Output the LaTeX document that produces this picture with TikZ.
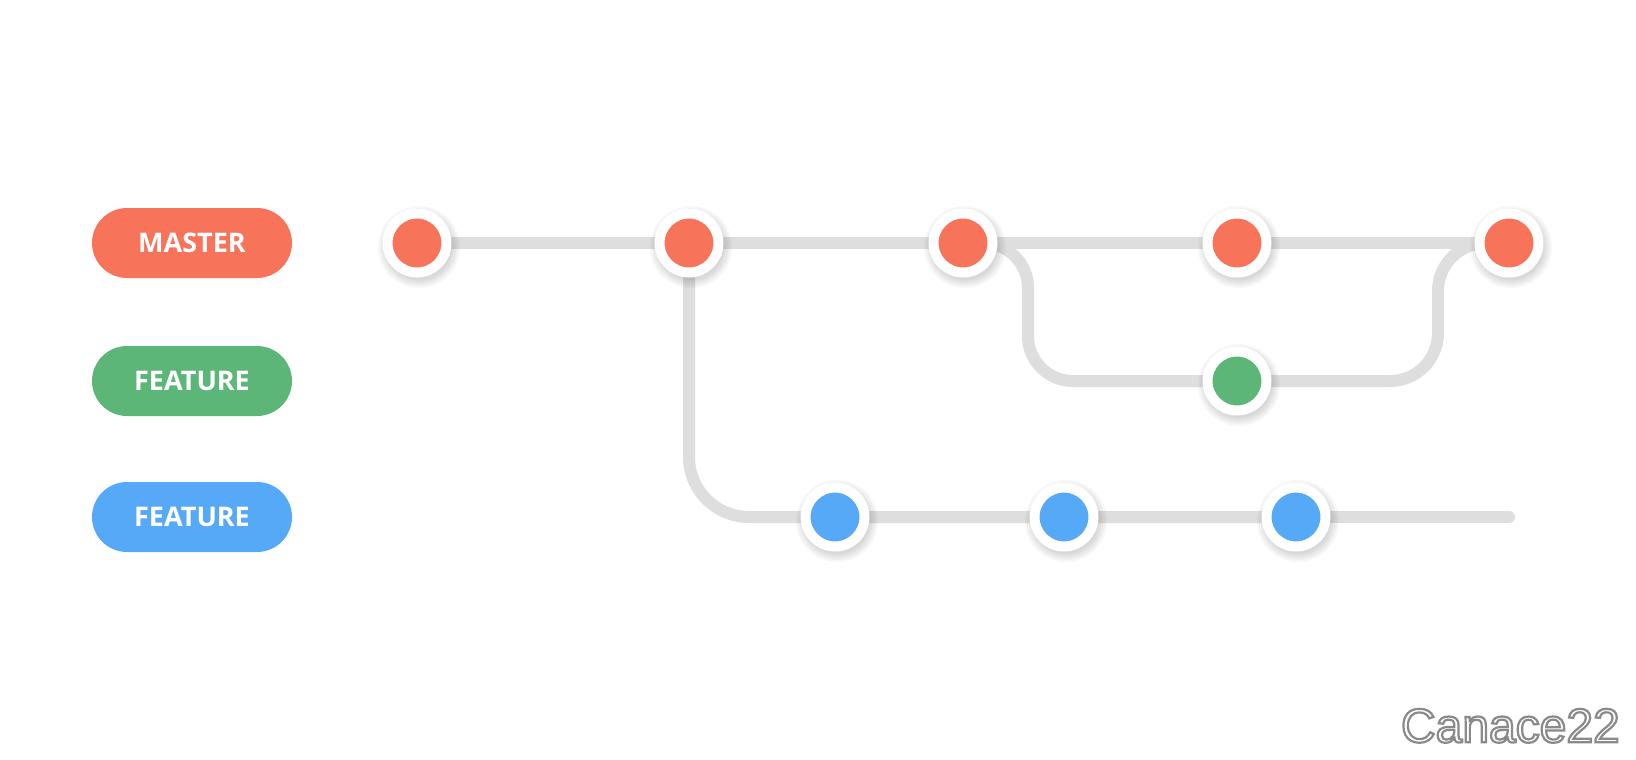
\documentclass[tikz,border=0pt]{standalone}
\usepackage{fontspec}
\setmainfont{Open Sans}
\newfontfamily\wmfont{Liberation Sans}
\usetikzlibrary{backgrounds,shapes.misc}
\definecolor{corange}{HTML}{F7735A}
\definecolor{cgreen}{HTML}{5CB678}
\definecolor{cblue}{HTML}{56A9F7}
\definecolor{cline}{HTML}{DEDEDE}
\tikzset{
  pill/.style={rounded rectangle, minimum width=200pt, minimum height=70pt,
    inner sep=0pt, text=white, font=\fontsize{27}{27}\selectfont\bfseries},
  commit/.style={circle, draw=white, line width=10pt, minimum size=59pt, inner sep=0pt},
  branchline/.style={draw=cline, line width=12pt},
  shade/.style={fill=black, opacity=0.03}
}
\newcommand{\nodeshadow}[1]{%
  \foreach \r in {33,35,37,39,41} {\fill[shade] ([shift={(2pt,-4pt)}]#1.center) circle (\r pt);}}
\newcommand{\outlinedtext}[1]{\special{pdf:literal direct 2 Tr 2.2 w 0.54 G}#1\special{pdf:literal direct 0 Tr 0 G}}
\begin{document}
\begin{tikzpicture}[x=1pt,y=-1pt]
\useasboundingbox (0,0) rectangle (1636,760);
% labels
\node[pill, fill=corange] (lm) at (192,243) {MASTER};
\node[pill, fill=cgreen] (lg) at (192,381) {FEATURE};
\node[pill, fill=cblue] (lb) at (192,517) {FEATURE};
% commits
\node[commit, fill=corange] (m1) at (417,243) {};
\node[commit, fill=corange] (m2) at (689,243) {};
\node[commit, fill=corange] (m3) at (963,243) {};
\node[commit, fill=corange] (m4) at (1237,243) {};
\node[commit, fill=corange] (m5) at (1509,243) {};
\node[commit, fill=cgreen] (g1) at (1237,381) {};
\node[commit, fill=cblue] (b1) at (835,517) {};
\node[commit, fill=cblue] (b2) at (1064,517) {};
\node[commit, fill=cblue] (b3) at (1296,517) {};
\coordinate (bend) at (1509,517);
\coordinate (gk1) at (1028,381);
\coordinate (gk2) at (1438,243);
% watermark
\node[anchor=south east, inner sep=0pt, text=white, font=\wmfont\fontsize{48}{48}\selectfont] (wm) at (1620,743)
  {\outlinedtext{Canace22}};
\begin{pgfonlayer}{background}
\fill[white] (0,0) rectangle (1636,760);
\path[branchline] (m1.center) -- (m5.center);
\path[branchline, rounded corners=60pt] (m2.center) |- (b1.center) -- (b3.center);
\path[branchline, line cap=round] (b3.center) -- (bend);
\path[branchline, rounded corners=45pt] (m3.center) -| (gk1) -- (g1.center);
\path[branchline, rounded corners=48pt] (g1.center) -| (gk2) -- (m5.center);
\foreach \n in {m1,m2,m3,m4,m5,g1,b1,b2,b3} {\nodeshadow{\n}}
\end{pgfonlayer}
\end{tikzpicture}
\end{document}
